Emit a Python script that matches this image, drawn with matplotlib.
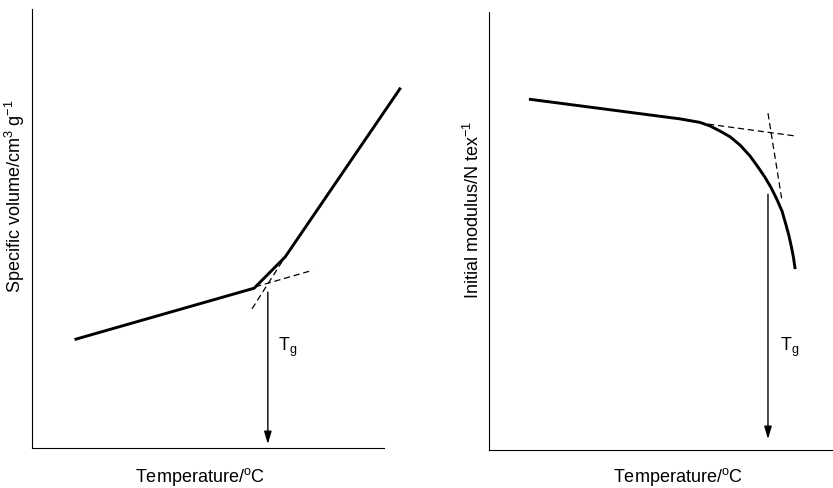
import matplotlib
matplotlib.use("Agg")
import matplotlib.pyplot as plt

plt.rcParams['font.family'] = ['Liberation Sans', 'DejaVu Sans']
plt.rcParams['mathtext.fontset'] = 'custom'
plt.rcParams['mathtext.rm'] = 'Liberation Sans'
plt.rcParams['mathtext.it'] = 'Liberation Sans:italic'
plt.rcParams['mathtext.bf'] = 'Liberation Sans:bold'

# ---- Left panel: specific volume vs temperature ----
vol_temp = [12.5, 63.1, 71.9, 104.5]
vol_value = [24.8, 36.4, 43.5, 81.8]
vol_glass_tan_t = [63.4, 79.8]
vol_glass_tan_v = [36.7, 40.5]
vol_rubber_tan_t = [62.5, 71.0]
vol_rubber_tan_v = [31.7, 42.4]
vol_tg = 67.0
vol_tg_top = 35.5

# ---- Right panel: initial modulus vs temperature ----
mod_temp = [11.6, 55.5, 58.4, 61.3, 64.2, 67.2, 70.1, 73.0, 75.9, 78.2,
            80.2, 82.0, 83.7, 85.2, 86.3, 87.2, 87.9, 88.5, 89.0]
mod_value = [80.1, 75.6, 75.2, 74.8, 74.0, 72.8, 71.5, 69.6, 67.1, 64.6,
             62.3, 59.9, 57.2, 54.5, 51.5, 48.9, 46.4, 44.0, 41.3]
mod_tan1_t = [63.7, 89.0]
mod_tan1_v = [74.4, 71.7]
mod_tan2_t = [81.1, 85.2]
mod_tan2_v = [76.9, 56.8]
mod_tg = 81.1
mod_tg_top = 58.4

xlabel = 'Temperature/$^{\\mathrm{o}}$C'
ylabel_left = 'Specific volume/cm$^{3}$ g$^{-1}$'
ylabel_right = 'Initial modulus/N tex$^{-1}$'
tg_label = 'T$_{\\mathrm{g}}$'

W, H = 833, 489
fig = plt.figure(figsize=(W / 100, H / 100), dpi=100)

axL = fig.add_axes([32 / W, 1 - 449 / H, 352 / W, 439 / H])
axR = fig.add_axes([489 / W, 1 - 451 / H, 344 / W, 438 / H])

dash = (0, (5, 3))
FS = 13
arrow_style = '-|>,head_length=0.5,head_width=0.15'

def style(ax):
    ax.set_xlim(0, 100)
    ax.set_ylim(0, 100)
    for s in ['top', 'right']:
        ax.spines[s].set_visible(False)
    for s in ['left', 'bottom']:
        ax.spines[s].set_linewidth(0.8)
        ax.spines[s].set_color('black')
    ax.set_xticks([])
    ax.set_yticks([])
    ax.patch.set_alpha(0)

for ax in (axL, axR):
    style(ax)

# Left panel
axL.plot(vol_temp, vol_value, color='black', lw=2.1, clip_on=False,
         solid_joinstyle='miter')
axL.plot(vol_glass_tan_t, vol_glass_tan_v, color='black', lw=0.9, ls=dash)
axL.plot(vol_rubber_tan_t, vol_rubber_tan_v, color='black', lw=0.9, ls=dash)
axL.annotate('', xy=(vol_tg, 0.9), xytext=(vol_tg, vol_tg_top),
             arrowprops=dict(arrowstyle=arrow_style,
                             mutation_scale=15, lw=1.0, color='black',
                             shrinkA=0, shrinkB=0))
axL.text(vol_tg + 2.9, 23.2, tg_label, fontsize=FS, ha='left', va='center')
axL.set_xlabel(xlabel, fontsize=FS)
axL.set_ylabel(ylabel_left, fontsize=FS)
axL.xaxis.set_label_coords(0.477, -0.064)
axL.xaxis.label.set_va('center')
axL.yaxis.set_label_coords(-0.048, 0.576)
axL.yaxis.label.set_va('center')

# Right panel
axR.plot(mod_temp, mod_value, color='black', lw=2.1, clip_on=False,
         solid_joinstyle='round', solid_capstyle='butt')
axR.plot(mod_tan1_t, mod_tan1_v, color='black', lw=0.9, ls=dash)
axR.plot(mod_tan2_t, mod_tan2_v, color='black', lw=0.9, ls=dash)
axR.annotate('', xy=(mod_tg, 2.5), xytext=(mod_tg, mod_tg_top),
             arrowprops=dict(arrowstyle=arrow_style,
                             mutation_scale=15, lw=1.0, color='black',
                             shrinkA=0, shrinkB=0))
axR.text(mod_tg + 3.5, 23.7, tg_label, fontsize=FS, ha='left', va='center')
axR.set_xlabel(xlabel, fontsize=FS)
axR.set_ylabel(ylabel_right, fontsize=FS)
axR.xaxis.set_label_coords(0.55, -0.059)
axR.xaxis.label.set_va('center')
axR.yaxis.set_label_coords(-0.047, 0.55)
axR.yaxis.label.set_va('center')

fig.savefig('out.png', dpi=100, facecolor='white')
